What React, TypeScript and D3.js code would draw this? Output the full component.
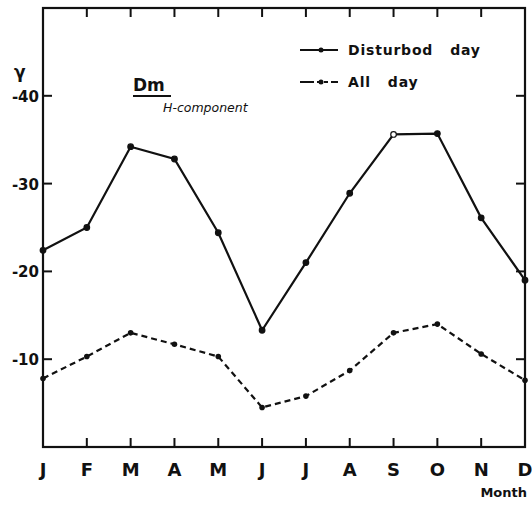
import React from "react";
import * as d3 from "d3";

const months = ["J", "F", "M", "A", "M", "J", "J", "A", "S", "O", "N", "D"];
// magnitudes in gamma (plotted as negative values)
const disturbed = [22.4, 25.0, 34.2, 32.8, 24.4, 13.3, 21.0, 28.9, 35.6, 35.7, 26.1, 19.0];
const allDay = [7.8, 10.3, 13.0, 11.7, 10.3, 4.5, 5.8, 8.7, 13.0, 14.0, 10.6, 7.6];
const yTicks = [10, 20, 30, 40];

const W = 532;
const H = 505;
const margin = { top: 8, right: 7, bottom: 58, left: 43 };

const App = () => {
  const x = d3
    .scalePoint<number>()
    .domain(d3.range(months.length))
    .range([margin.left, W - margin.right]);
  const y = d3.scaleLinear().domain([0, 50]).range([H - margin.bottom, margin.top]);

  const line = d3
    .line<number>()
    .x((_, i) => x(i)!)
    .y((d) => y(d));

  const font = "'DejaVu Sans', sans-serif";
  const left = margin.left;
  const right = W - margin.right;
  const top = margin.top;
  const bottom = H - margin.bottom;

  return (
    <svg width={W} height={H} style={{ position: "absolute", left: 0, top: 0, background: "#fff" }}>
      {/* frame */}
      <rect x={left} y={top} width={right - left} height={bottom - top} fill="none" stroke="#111" strokeWidth={2.2} />

      {/* month ticks top and bottom */}
      {months.map((m, i) =>
        i === 0 || i === months.length - 1 ? null : (
          <g key={"t" + i}>
            <line x1={x(i)} x2={x(i)} y1={top} y2={top + 9} stroke="#111" strokeWidth={2} />
            <line x1={x(i)} x2={x(i)} y1={bottom} y2={bottom - 9} stroke="#111" strokeWidth={2} />
          </g>
        )
      )}

      {/* y ticks left and right */}
      {yTicks.map((v) => (
        <g key={"y" + v}>
          <line x1={left} x2={left + 9} y1={y(v)} y2={y(v)} stroke="#111" strokeWidth={2} />
          <line x1={right} x2={right - 9} y1={y(v)} y2={y(v)} stroke="#111" strokeWidth={2} />
          <text x={left - 4} y={y(v) + 6} textAnchor="end" fontFamily={font} fontWeight="bold" fontSize={15} fill="#111">
            {"-" + v}
          </text>
        </g>
      ))}
      <text x={14} y={78} fontFamily={font} fontWeight="bold" fontSize={17} fill="#111">γ</text>

      {/* month labels */}
      {months.map((m, i) => (
        <text key={"m" + i} x={x(i)} y={bottom + 29} textAnchor="middle" fontFamily={font} fontWeight="bold" fontSize={18} fill="#111">
          {m}
        </text>
      ))}
      <text x={right + 2} y={bottom + 50} textAnchor="end" fontFamily={font} fontWeight="bold" fontSize={13} fill="#111">
        Month
      </text>

      {/* all day (dashed) */}
      <path d={line(allDay)!} fill="none" stroke="#111" strokeWidth={2.2} strokeDasharray="6,4" />
      {allDay.map((d, i) => (
        <circle key={"a" + i} cx={x(i)} cy={y(d)} r={2.8} fill="#111" />
      ))}

      {/* disturbed day (solid) */}
      <path d={line(disturbed)!} fill="none" stroke="#111" strokeWidth={2.2} />
      {disturbed.map((d, i) => (
        <circle key={"d" + i} cx={x(i)} cy={y(d)} r={2.8} fill={i === 8 ? "#fff" : "#111"} stroke="#111" strokeWidth={1.2} />
      ))}

      {/* title */}
      <text x={133} y={91} fontFamily={font} fontWeight="bold" fontSize={17} fill="#111">Dm</text>
      <line x1={133} x2={171} y1={96} y2={96} stroke="#111" strokeWidth={1.8} />
      <text x={163} y={112} fontFamily={font} fontStyle="italic" fontSize={12.5} fill="#111">H-component</text>

      {/* legend */}
      <line x1={300} x2={338} y1={50} y2={50} stroke="#111" strokeWidth={2.2} />
      <circle cx={321} cy={50} r={2.5} fill="#111" />
      <text x={348} y={55} fontFamily={font} fontWeight="bold" fontSize={14} letterSpacing={0.8} fill="#111" style={{ whiteSpace: "pre" }}>
        {"Disturbod   day"}
      </text>
      <line x1={300} x2={338} y1={82} y2={82} stroke="#111" strokeWidth={2.2} strokeDasharray="14,3,4,3,4,3" />
      <circle cx={321} cy={82} r={2.5} fill="#111" />
      <text x={348} y={87} fontFamily={font} fontWeight="bold" fontSize={14} letterSpacing={0.8} fill="#111" style={{ whiteSpace: "pre" }}>
        {"All   day"}
      </text>
    </svg>
  );
};

export default App;
